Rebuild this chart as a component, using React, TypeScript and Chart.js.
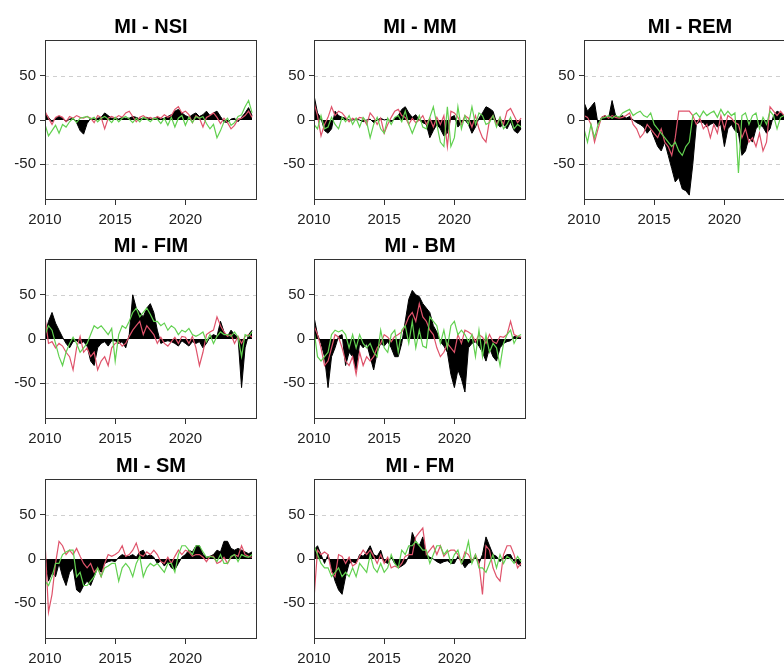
import React, { useEffect, useRef } from "react";
import { Chart, registerables } from "chart.js";

Chart.register(...registerables);

// ---- axis / category data ----
const START_YEAR = 2010;
const STEP_YEARS = 0.25; // quarterly observations
const X_TICKS = [2010, 2015, 2020];
const Y_TICKS = [-50, 0, 50];
const DASHED_LEVELS = [-50, 50];
const TITLES = ["MI - NSI", "MI - MM", "MI - REM", "MI - FIM", "MI - BM", "MI - SM", "MI - FM"];

// ---- series values (quarterly, 2010Q1 .. 2024Q4) ----
const NSI_BLACK = [8, 3, -2, 2, 4, 2, -2, 1, 2, -3, -12, -16, -4, 2, 1, 2, 3, 8, 5, 2, 2, 1, 3, 2, 2, 4, 3, 1, 2, 3, 1, 2, 3, 1, 2, 4, 6, 10, 12, 8, 5, 3, 6, 8, 4, 6, 10, 5, 8, 10, 4, -2, -3, 1, 2, -2, 3, 8, 14, 5];
const NSI_RED = [10, 2, -5, 3, 5, 3, -2, 4, 2, 5, 3, 2, 4, 2, -3, 5, 3, -10, 2, 4, 2, 5, 3, 8, 10, 4, -2, 3, 5, 2, 3, 1, 4, 2, 6, 3, 5, 12, 15, 8, 10, 6, -3, 5, 2, -8, 3, 5, 8, 3, -4, 2, -3, -10, -6, 1, 2, 5, 10, 3];
const NSI_GREEN = [-5, -18, -12, -6, -15, -5, -8, -2, 2, -3, 2, 3, 4, 1, 3, -2, 2, 4, 1, -3, 3, -2, 2, 4, 1, -3, 2, -2, 3, 1, -2, 2, 1, -4, 2, -6, 3, -8, 2, 5, -6, 3, -3, 4, 2, 4, -4, -10, -5, -20, -12, -2, 2, -6, -3, 4, 6, 15, 22, 8];

const MM_BLACK = [28, 8, 2, -12, -15, -10, 10, 5, 3, 2, 0, 0, 1, 0, -2, 0, 1, -3, 0, 2, 0, 1, -2, 2, 5, 12, 15, 8, 3, 6, 0, -3, -5, -20, -12, -5, -10, -18, -15, 3, 5, -8, -3, 0, -5, -15, -8, 2, 8, 15, 13, 10, -3, -8, -5, -10, -2, -12, -15, -10];
const MM_RED = [20, 5, -18, -5, 3, 15, 5, 10, 8, 3, -2, 2, 0, 3, 2, -5, 8, 3, -5, 2, -15, -5, 3, 10, 12, 5, 3, -5, 2, -3, 0, 5, -5, 2, -8, 3, -5, 5, -30, 10, 8, 3, -5, 5, 2, -8, 5, -10, -20, -25, 0, 5, -5, 3, -5, 10, 13, 5, -3, 2];
const MM_GREEN = [-5, -10, 5, -10, -8, 3, -5, -10, 3, -2, 5, -5, 2, -8, 3, -2, -20, -5, 3, -10, -15, 2, -5, 3, 5, -2, 10, -5, -15, -5, 5, -8, -10, 3, 15, -5, -25, -30, 15, -30, -20, 15, -10, 5, -5, 15, -5, 8, 5, -5, -3, 5, -8, 3, -10, -5, 3, -10, -5, -8];

const REM_BLACK = [20, 10, 15, 20, -5, 3, 5, 2, 22, 5, 3, 5, 2, 4, 0, -3, -5, -8, -15, -10, -20, -30, -35, -25, -40, -55, -70, -65, -78, -80, -85, -50, -5, -2, -3, -8, -5, -3, -8, -5, -30, -10, -5, -12, -15, -40, -35, -20, -25, -10, -5, -8, -15, -10, 5, 10, 8, 5, 3, 2];
const REM_RED = [5, 3, -5, -25, -10, 3, 5, 2, 5, 3, 2, 3, 5, 8, -5, -10, -20, -15, -5, -10, -15, -20, -10, -25, -30, -40, -20, 10, 10, 10, 10, 5, -5, 2, -10, -5, -20, -5, -15, 5, -10, 5, 2, -3, -5, -20, -10, -25, -20, -30, -15, -35, -25, 15, 10, 5, 10, 5, 3, 2];
const REM_GREEN = [-10, -25, -5, -20, -5, 2, 3, 5, 2, 5, 3, 8, 10, 12, 5, 8, 10, 5, 3, 8, -5, -10, -15, -20, -25, -30, -25, -35, -40, -30, -25, 5, 8, 3, 10, 5, 8, 10, 3, 12, 5, 10, 5, 8, -60, 5, 8, -5, 5, 8, -10, 3, -5, 10, 5, -10, 3, 5, 2, 3];

const FIM_BLACK = [5, 20, 30, 18, 10, 2, -5, -10, -3, -2, -5, -3, -8, -25, -30, -10, -5, -3, -8, -2, -2, -5, -3, -10, 5, 50, 35, 30, 25, 35, 40, 30, 10, -5, -3, -2, -3, -5, -8, -2, -5, -8, -3, -5, -3, -10, -5, 2, 5, 3, 20, 8, 3, 10, 5, 2, -55, -10, 5, 10];
const FIM_RED = [25, -5, -3, -10, -5, -8, -15, -20, -35, -10, 3, -15, -10, -20, -15, -35, -25, -20, -30, -10, -5, -3, -8, -5, 3, 10, 15, 20, 5, 15, 10, 5, -5, 2, -5, -8, -3, 2, -5, 3, 2, -5, 3, -10, -30, -15, 5, 8, 10, 25, 15, 8, 3, 5, -5, 3, -5, 3, 5, 2];
const FIM_GREEN = [5, 15, 10, -5, -20, -30, -15, -5, 2, -5, -15, -10, -5, 5, 15, 12, 15, 10, 5, 12, -25, 5, 15, 12, 20, 30, 35, 25, 30, 35, 28, 20, 20, 15, 18, 10, 15, 12, 5, 10, 8, 12, 5, 3, 5, 8, -3, 5, -5, 3, 8, 5, 5, 3, 8, 2, -20, 5, 3, 8];

const BM_BLACK = [25, 5, -5, -20, -55, -20, -10, 3, 5, -30, -15, -20, -35, -5, -10, -5, -20, -35, -15, -5, -8, -3, -10, -20, -20, -5, 20, 45, 55, 50, 48, 40, 35, 30, 15, 8, -3, -8, -15, -40, -55, -35, -45, -60, -10, -5, -3, -8, -15, -25, -10, -20, -25, -10, -5, -3, -2, 3, 2, 2];
const BM_RED = [15, 5, -10, -30, -25, -10, 5, 2, -10, -25, -30, -20, -40, -15, -30, -20, -25, -20, -10, -5, 5, 2, -3, 3, 5, 8, 15, 25, 30, 20, 40, 25, 20, 10, 5, -10, -20, -15, -5, -10, -15, 5, -5, 10, 8, 5, -3, 5, 2, -5, 5, -3, -5, 3, 2, 5, 20, 5, 3, 2];
const BM_GREEN = [10, -20, -25, -20, -15, 5, 10, 8, 10, 5, -10, 5, -10, 5, -5, -10, -5, -15, -20, 10, -10, -15, 5, 10, -15, 10, 15, -5, 20, -10, 10, -8, -10, 25, 20, 15, -5, 10, -10, 15, 20, 5, 10, 5, -3, 5, -20, 10, -20, 5, -15, -5, -10, -30, -5, 5, 10, -5, 3, 5];

const SM_BLACK = [5, -25, -15, -20, -5, -20, -30, -15, -10, -35, -38, -30, -25, -30, -20, -10, -15, -5, -3, -2, -3, 2, 5, 3, 3, 5, 2, 8, 10, 3, 5, 2, -5, -2, -8, -3, -10, -12, -5, 2, 5, 10, 8, 15, 15, 5, 2, 3, 5, 10, 8, 20, 20, 12, 10, 12, 10, 8, 6, 8];
const SM_RED = [20, -60, -40, -5, 20, 15, 5, 10, 5, 12, 3, -5, -10, -5, -15, -10, -20, -5, 5, 3, 5, 8, 15, 3, 5, 10, 18, 5, 3, 8, 5, 10, 5, -3, -5, 2, -5, 3, 10, 5, 10, 8, 3, 5, 5, 2, -3, 3, 3, -5, -3, 2, -5, 2, 5, 3, 15, 5, 3, 2];
const SM_GREEN = [-25, -30, -20, -5, -5, 5, 8, 10, 10, -20, -15, -30, -30, -25, -20, -10, -20, -10, -8, -5, -5, -25, -10, -5, -10, -20, -5, 3, -20, -10, -5, -8, -5, -10, -15, -5, -5, -15, 5, 15, 15, 10, 5, 15, 15, 8, 2, 3, 2, -3, 5, -5, -5, 3, 5, -3, 5, 3, 2, 5];

const FM_BLACK = [10, 15, 5, -5, 5, -10, -25, -35, -40, -20, -5, -3, -5, 5, 3, 8, 15, 5, 3, 10, -3, -5, 2, -5, -10, -8, -5, 3, 30, 20, 15, 25, 5, 2, 0, -3, -5, -3, -2, -5, -5, 3, -3, -10, -5, -3, 2, -5, 5, 25, 15, 5, 3, -3, 2, 5, 5, -3, -5, -8];
const FM_RED = [-45, 10, 5, 8, 5, -15, -20, 5, 3, -5, 2, -8, -5, 3, 10, 5, 10, 3, -5, 5, -5, 2, -10, -8, -10, -5, 3, 5, 5, 25, 30, 35, 5, 10, 15, 5, 15, 3, 8, 10, 10, 5, -5, 8, 5, -3, 5, -5, -40, 15, 10, -10, -20, -25, 5, 15, 15, 5, -10, -5];
const FM_GREEN = [15, 5, -5, -10, -10, -20, -15, -10, -20, -15, -20, -10, -20, -5, -10, -15, 5, -10, -15, -5, -15, -10, 5, -5, -10, 10, 5, 15, 15, 20, 15, 10, 10, -5, 5, 15, 15, 5, 10, -5, 5, 10, -5, 3, 20, -5, 5, -10, -10, -15, -5, 5, -10, 5, -5, 3, 0, -5, 3, -3];

const PANEL_SERIES = [
  [NSI_BLACK, NSI_RED, NSI_GREEN],
  [MM_BLACK, MM_RED, MM_GREEN],
  [REM_BLACK, REM_RED, REM_GREEN],
  [FIM_BLACK, FIM_RED, FIM_GREEN],
  [BM_BLACK, BM_RED, BM_GREEN],
  [SM_BLACK, SM_RED, SM_GREEN],
  [FM_BLACK, FM_RED, FM_GREEN],
];

// ---- layout / style ----
const PANEL_CELL = [
  [0, 0],
  [0, 1],
  [0, 2],
  [1, 0],
  [1, 1],
  [2, 0],
  [2, 1],
]; // [row, col]
const COL_LEFT = [0, 269, 539];
const ROW_TOP = [0, 219, 439];
const CANVAS_W = 270;
const CANVAS_H = 240;
const X_AXIS_H = 40;
const FONT = '"Liberation Sans", Arial, Helvetica, sans-serif';
const RED = "#DF536B";
const GREEN = "#61D04F";

function toPoints(values: number[]) {
  return values.map((v, i) => ({ x: START_YEAR + i * STEP_YEARS, y: v }));
}

const panelPlugin = {
  id: "panelDecor",
  beforeDatasetsDraw(chart: any) {
    const { ctx, chartArea: a, scales } = chart;
    ctx.save();
    ctx.strokeStyle = "#cfcfcf";
    ctx.lineWidth = 1;
    ctx.setLineDash([4, 4]);
    for (const v of DASHED_LEVELS) {
      const py = Math.round(scales.y.getPixelForValue(v)) + 0.5;
      ctx.beginPath();
      ctx.moveTo(a.left, py);
      ctx.lineTo(a.right, py);
      ctx.stroke();
    }
    ctx.restore();
  },
  afterDraw(chart: any) {
    const { ctx, chartArea: a } = chart;
    ctx.save();
    ctx.strokeStyle = "#333333";
    ctx.lineWidth = 1;
    ctx.setLineDash([]);
    ctx.strokeRect(Math.round(a.left) + 0.5, Math.round(a.top) + 0.5, Math.round(a.right - a.left) - 1, Math.round(a.bottom - a.top) - 1);
    const title = chart.options.plugins.panelDecor.title;
    ctx.fillStyle = "#000000";
    ctx.font = `bold 20px ${FONT}`;
    ctx.textAlign = "center";
    ctx.textBaseline = "middle";
    ctx.fillText(title, (a.left + a.right) / 2, 27);
    ctx.restore();
  },
};

function Panel({ index }: { index: number }) {
  const ref = useRef<HTMLCanvasElement>(null);
  const [row, col] = PANEL_CELL[index];
  useEffect(() => {
    const [black, red, green] = PANEL_SERIES[index];
    const chart = new Chart(ref.current as HTMLCanvasElement, {
      type: "line",
      data: {
        datasets: [
          {
            data: toPoints(green),
            borderColor: GREEN,
            borderWidth: 1.2,
            pointRadius: 0,
            fill: false,
            order: 1,
          },
          {
            data: toPoints(red),
            borderColor: RED,
            borderWidth: 1.2,
            pointRadius: 0,
            fill: false,
            order: 2,
          },
          {
            data: toPoints(black),
            borderColor: "#000000",
            backgroundColor: "#000000",
            borderWidth: 1,
            pointRadius: 0,
            fill: "origin",
            order: 3,
          },
        ],
      },
      options: {
        animation: false,
        responsive: false,
        devicePixelRatio: 1,
        layout: { padding: { top: 40, right: 13, left: 0, bottom: 0 } },
        plugins: {
          legend: { display: false },
          tooltip: { enabled: false },
          title: { display: false },
          panelDecor: { title: TITLES[index] },
        } as any,
        scales: {
          x: {
            type: "linear",
            min: START_YEAR,
            max: 2025.1,
            afterBuildTicks: (s: any) => {
              s.ticks = X_TICKS.map((v) => ({ value: v }));
            },
            afterFit: (s: any) => {
              s.height = X_AXIS_H;
            },
            ticks: {
              callback: (v: any) => String(v),
              font: { family: FONT, size: 15 },
              color: "#222222",
              padding: 6,
              maxRotation: 0,
              autoSkip: false,
            },
            grid: { display: true, drawOnChartArea: false, drawTicks: true, tickLength: 5, color: "#333333" },
            border: { display: false },
          },
          y: {
            type: "linear",
            min: -90.5,
            max: 90.5,
            afterBuildTicks: (s: any) => {
              s.ticks = Y_TICKS.map((v) => ({ value: v }));
            },
            afterFit: (s: any) => {
              s.width = 45;
            },
            ticks: {
              callback: (v: any) => String(v),
              font: { family: FONT, size: 15 },
              color: "#222222",
              padding: 4,
              autoSkip: false,
            },
            grid: { display: true, drawOnChartArea: false, drawTicks: true, tickLength: 5, color: "#333333" },
            border: { display: false },
          },
        },
      },
      plugins: [panelPlugin as any],
    });
    return () => chart.destroy();
  }, [index]);
  return (
    <canvas
      ref={ref}
      width={CANVAS_W}
      height={CANVAS_H}
      style={{ position: "absolute", left: COL_LEFT[col], top: ROW_TOP[row], width: CANVAS_W, height: CANVAS_H }}
    />
  );
}

export default function App() {
  return (
    <div style={{ position: "absolute", left: 0, top: 0, width: 784, height: 668, overflow: "hidden", background: "#ffffff" }}>
      {TITLES.map((_, i) => (
        <Panel key={i} index={i} />
      ))}
    </div>
  );
}
